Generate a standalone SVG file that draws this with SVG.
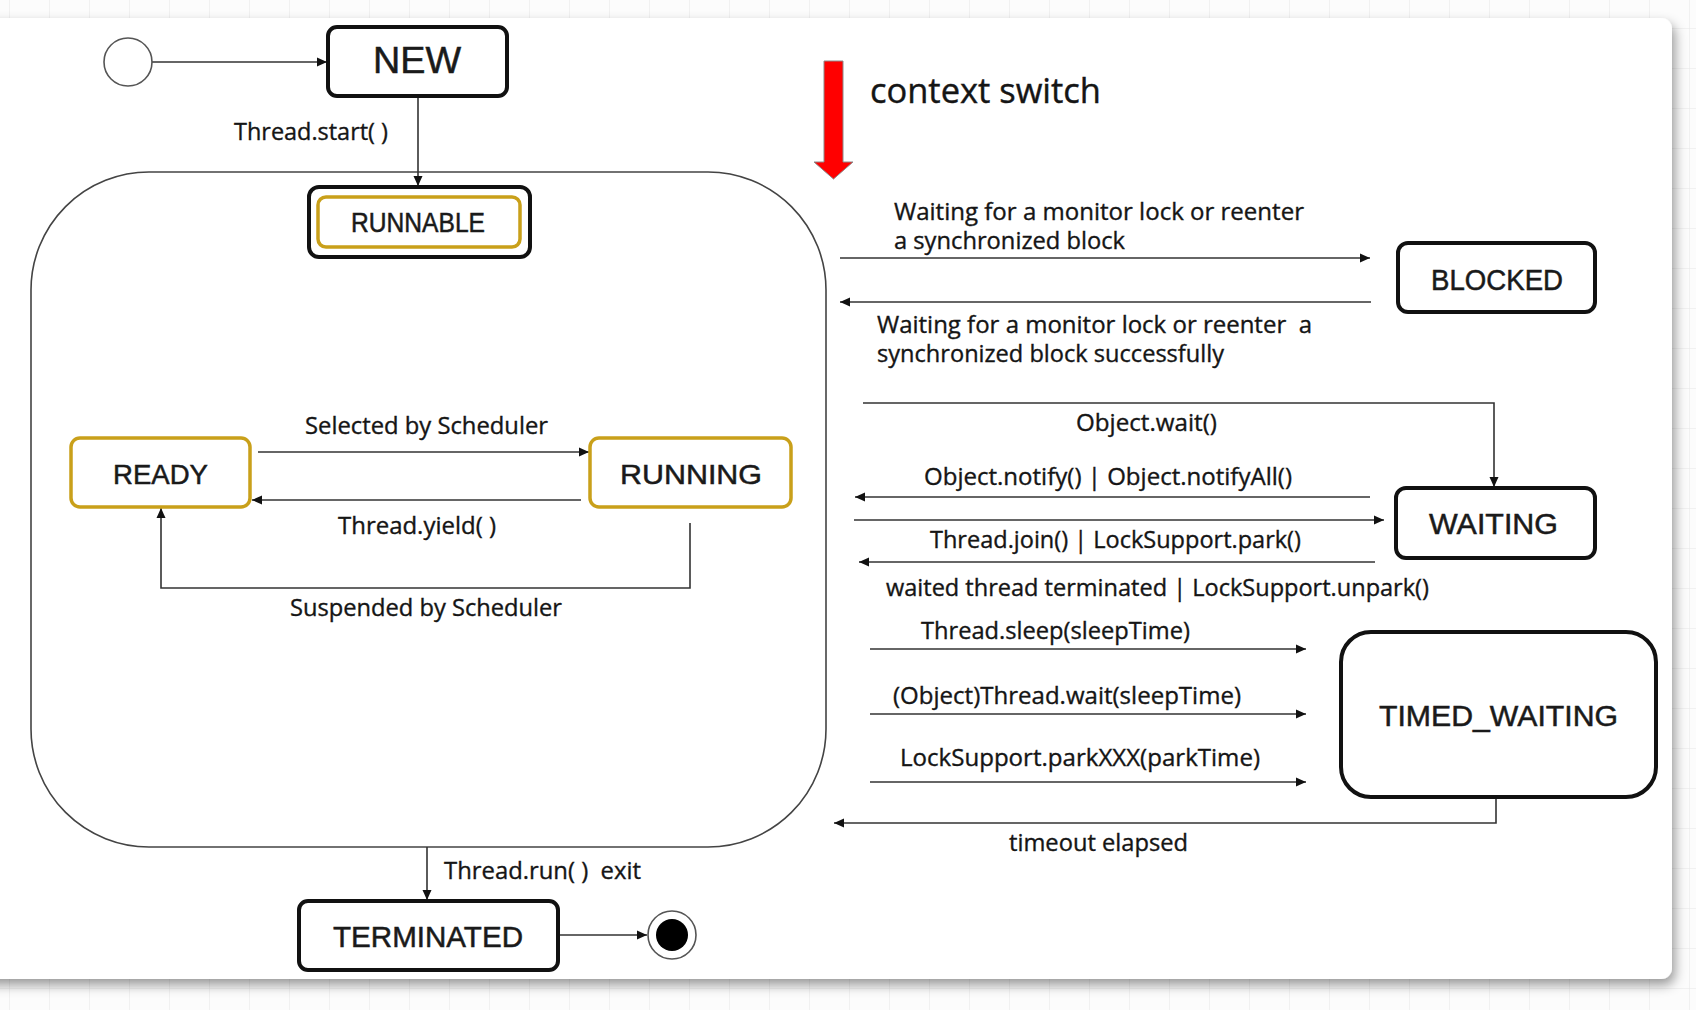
<svg xmlns="http://www.w3.org/2000/svg" width="1696" height="1010" viewBox="0 0 1696 1010">
  <defs>
    <pattern id="grid" x="9" y="28" width="40" height="40" patternUnits="userSpaceOnUse">
      <path d="M0 0 H40 M0 0 V40" fill="none" stroke="#e6e6e6" stroke-width="1"/>
    </pattern>
    <filter id="shadow" x="-5%" y="-5%" width="110%" height="115%">
      <feDropShadow dx="3" dy="6" stdDeviation="6" flood-color="#000" flood-opacity="0.4"/>
    </filter>
    <marker id="arr" viewBox="0 0 10 10" refX="10" refY="5" markerWidth="10" markerHeight="10" markerUnits="userSpaceOnUse" orient="auto">
      <path d="M0,0.5 L10,5 L0,9.5 z" fill="#111"/>
    </marker>
    <style>
      .state { fill: #fff; stroke: #111; stroke-width: 4; }
      .gold { fill: #fff; stroke: #c9a01a; stroke-width: 3.5; }
      .big { font-family: "Liberation Sans", Arial, sans-serif; fill: #1a1a1a; stroke: #1a1a1a; stroke-width: 0.5; }
      .lbl { font-family: "Open Sans", "Liberation Sans", Arial, sans-serif; font-size: 23px; fill: #151515; stroke: #151515; stroke-width: 0.35; }
      .title { font-family: "Open Sans", "Liberation Sans", Arial, sans-serif; font-size: 34px; fill: #151515; stroke: #151515; stroke-width: 0.4; }
      .conn { fill: none; stroke: #333; stroke-width: 1.6; }
      .arrow { marker-end: url(#arr); }
    </style>
  </defs>

  <rect x="0" y="0" width="1696" height="1010" fill="#fcfcfc"/>
  <rect x="0" y="0" width="1696" height="1010" fill="url(#grid)"/>
  <rect x="-30" y="18" width="1702" height="961" rx="11" fill="#fff" filter="url(#shadow)"/>

  <!-- composite state container -->
  <g id="runnable-region">
    <rect x="31" y="172" width="795" height="675" rx="118" fill="#fff" stroke="#444" stroke-width="1.6"/>
  </g>

  <g id="connectors">
    <path class="conn arrow" d="M152 62 H327"/>
    <path class="conn arrow" d="M418 97 V186"/>
    <path class="conn arrow" d="M258 452 H589"/>
    <path class="conn arrow" d="M581 500 H252"/>
    <path class="conn arrow" d="M690 523 V588 H161 V508"/>
    <path class="conn arrow" d="M427 847 V900"/>
    <path class="conn arrow" d="M560 935 H647"/>
    <path class="conn arrow" d="M840 258 H1370"/>
    <path class="conn arrow" d="M1371 302 H840"/>
    <path class="conn arrow" d="M863 403 H1494 V487"/>
    <path class="conn arrow" d="M1370 497 H855"/>
    <path class="conn arrow" d="M854 520 H1384"/>
    <path class="conn arrow" d="M1375 562 H859"/>
    <path class="conn arrow" d="M870 649 H1306"/>
    <path class="conn arrow" d="M870 714 H1306"/>
    <path class="conn arrow" d="M870 782 H1306"/>
    <path class="conn arrow" d="M1496 797 V823 H834"/>
  </g>

  <g id="labels">
    <text class="lbl" x="234" y="140" textLength="154" lengthAdjust="spacingAndGlyphs">Thread.start( )</text>
    <text class="lbl" x="305" y="434" textLength="243" lengthAdjust="spacingAndGlyphs">Selected by Scheduler</text>
    <text class="lbl" x="338" y="534" textLength="158" lengthAdjust="spacingAndGlyphs">Thread.yield( )</text>
    <text class="lbl" x="290" y="616" textLength="272" lengthAdjust="spacingAndGlyphs">Suspended by Scheduler</text>
    <text class="lbl" x="444" y="879" textLength="197" lengthAdjust="spacingAndGlyphs" xml:space="preserve">Thread.run( )  exit</text>
    <text class="lbl" x="894" y="220" textLength="410" lengthAdjust="spacingAndGlyphs">Waiting for a monitor lock or reenter</text>
    <text class="lbl" x="894" y="249" textLength="231" lengthAdjust="spacingAndGlyphs">a synchronized block</text>
    <text class="lbl" x="877" y="333" textLength="435" lengthAdjust="spacingAndGlyphs" xml:space="preserve">Waiting for a monitor lock or reenter  a</text>
    <text class="lbl" x="877" y="362" textLength="347" lengthAdjust="spacingAndGlyphs">synchronized block successfully</text>
    <text class="lbl" x="1076" y="431" textLength="141" lengthAdjust="spacingAndGlyphs">Object.wait()</text>
    <text class="lbl" x="924" y="485" textLength="368" lengthAdjust="spacingAndGlyphs">Object.notify() | Object.notifyAll()</text>
    <text class="lbl" x="930" y="548" textLength="371" lengthAdjust="spacingAndGlyphs">Thread.join() | LockSupport.park()</text>
    <text class="lbl" x="886" y="596" textLength="543" lengthAdjust="spacingAndGlyphs">waited thread terminated | LockSupport.unpark()</text>
    <text class="lbl" x="921" y="639" textLength="269" lengthAdjust="spacingAndGlyphs">Thread.sleep(sleepTime)</text>
    <text class="lbl" x="893" y="704" textLength="348" lengthAdjust="spacingAndGlyphs">(Object)Thread.wait(sleepTime)</text>
    <text class="lbl" x="900" y="766" textLength="360" lengthAdjust="spacingAndGlyphs">LockSupport.parkXXX(parkTime)</text>
    <text class="lbl" x="1009" y="851" textLength="179" lengthAdjust="spacingAndGlyphs">timeout elapsed</text>
  </g>

  <g id="context-switch">
    <path d="M824 61 H843 V162 H853 L833.5 179 L814 162 H824 Z" fill="#ff0000" stroke="#8a8a8a" stroke-width="1"/>
    <text class="title" x="870" y="103" textLength="231" lengthAdjust="spacingAndGlyphs">context switch</text>
  </g>

  <g id="start">
    <circle cx="128" cy="62" r="24" fill="#fff" stroke="#555" stroke-width="1.6"/>
  </g>

  <g id="NEW">
    <rect class="state" x="328" y="27" width="179" height="69" rx="9"/>
    <text class="big" x="373" y="73" font-size="36" textLength="88" lengthAdjust="spacingAndGlyphs">NEW</text>
  </g>

  <g id="RUNNABLE">
    <rect class="state" x="309" y="187" width="221" height="70" rx="10" stroke-width="4.5"/>
    <rect class="gold" x="318" y="197" width="202" height="50" rx="8"/>
    <text class="big" x="351" y="232" font-size="27" textLength="134" lengthAdjust="spacingAndGlyphs">RUNNABLE</text>
  </g>

  <g id="READY">
    <rect class="gold" x="71" y="438" width="179" height="69" rx="9"/>
    <text class="big" x="113" y="484" font-size="28" textLength="95" lengthAdjust="spacingAndGlyphs">READY</text>
  </g>

  <g id="RUNNING">
    <rect class="gold" x="590" y="438" width="201" height="69" rx="9"/>
    <text class="big" x="620" y="484" font-size="28" textLength="142" lengthAdjust="spacingAndGlyphs">RUNNING</text>
  </g>

  <g id="BLOCKED">
    <rect class="state" x="1398" y="243" width="197" height="69" rx="10"/>
    <text class="big" x="1431" y="290" font-size="29" textLength="132" lengthAdjust="spacingAndGlyphs">BLOCKED</text>
  </g>

  <g id="WAITING">
    <rect class="state" x="1396" y="488" width="199" height="70" rx="10"/>
    <text class="big" x="1429" y="534" font-size="29" textLength="129" lengthAdjust="spacingAndGlyphs">WAITING</text>
  </g>

  <g id="TIMED_WAITING">
    <rect class="state" x="1341" y="632" width="315" height="165" rx="30"/>
    <text class="big" x="1379" y="726" font-size="29" textLength="239" lengthAdjust="spacingAndGlyphs">TIMED_WAITING</text>
  </g>

  <g id="TERMINATED">
    <rect class="state" x="299" y="901" width="259" height="69" rx="9"/>
    <text class="big" x="333" y="947" font-size="29" textLength="190" lengthAdjust="spacingAndGlyphs">TERMINATED</text>
  </g>

  <g id="end">
    <circle cx="672" cy="935" r="24" fill="#fff" stroke="#555" stroke-width="1.6"/>
    <circle cx="672" cy="935" r="16" fill="#000"/>
  </g>
</svg>
